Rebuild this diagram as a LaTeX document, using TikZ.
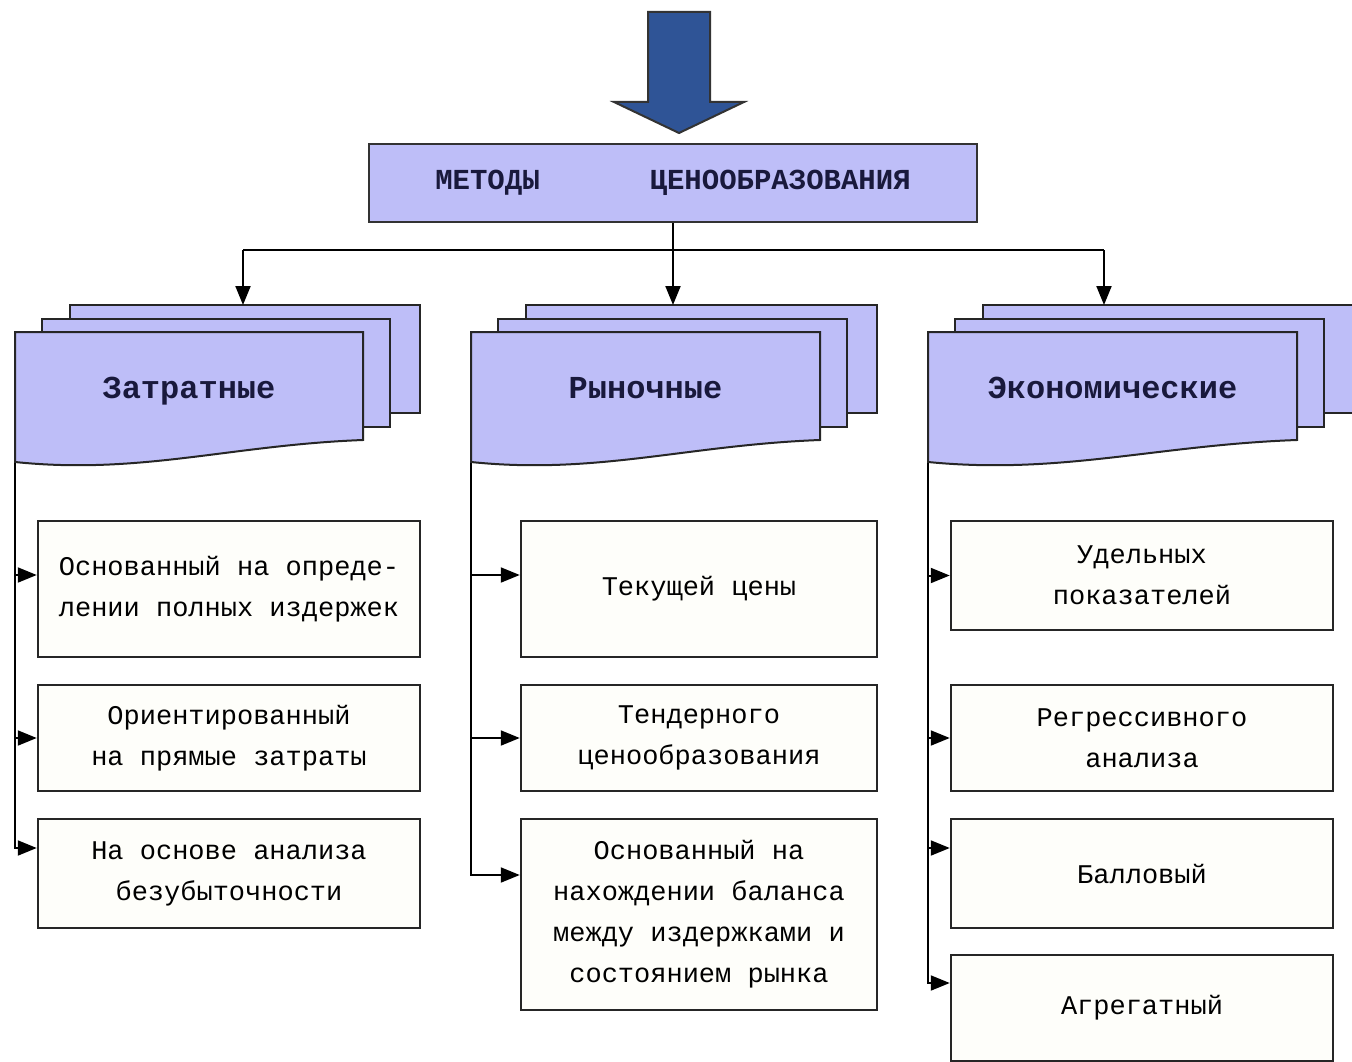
\documentclass[tikz,border=0pt]{standalone}
\usepackage{fontspec}
\setmonofont{Liberation Mono}
\usetikzlibrary{arrows.meta}

\definecolor{lav}{RGB}{190,190,248}
\definecolor{paper}{RGB}{254,254,250}
\definecolor{bigblue}{RGB}{47,84,150}
\definecolor{ink}{RGB}{25,25,60}

% stack of three sheets: left x, front width, back width, name, label
\newcommand\docstack[5]{%
  \draw[sheet] ({#1+55},305) rectangle ++(#3,108);
  \draw[sheet] ({#1+27},319) rectangle ++(#2,108);
  \draw[sheet] (#1,332) -- ++(#2,0) -- ++(0,108)
    .. controls ({#1+0.62*#2},445) and ({#1+0.36*#2},475) .. (#1,462) -- cycle;
  \node[headtxt] (#4) at ({#1+0.5*#2},398) {#5};
  \coordinate (#4T) at ({#1+55},305);
  \coordinate (#4L) at (#1,463);
}

\begin{document}
\begin{tikzpicture}[x=1pt, y=-1pt,
    sheet/.style = {draw=black!85, line width=2pt, fill=lav},
    headtxt/.style = {anchor=base, text=ink,
      font=\ttfamily\bfseries\fontsize{32}{32}\selectfont},
    titlebox/.style = {draw=black!80, line width=2pt, fill=lav,
      minimum width=608pt, minimum height=78pt, text=ink,
      font=\ttfamily\bfseries\fontsize{29}{29}\selectfont},
    box/.style = {draw=black!85, line width=2.5pt, fill=paper, align=center,
      font=\ttfamily\fontsize{27}{41}\selectfont},
    link/.style = {line width=2pt, -{Triangle[length=19pt,width=15pt]}}]
  \useasboundingbox (0,0) rectangle (1352,1062);

  % big arrow on top
  \draw[fill=bigblue, draw=black!80, line width=2pt] (648,12) -- (710,12) -- (710,102)
    -- (744,102) -- (679,133) -- (614,102) -- (648,102) -- cycle;

  \node[titlebox] (title) at (673,183) {МЕТОДЫ\hspace{110pt}ЦЕНООБРАЗОВАНИЯ};

  \docstack{15}{348}{350}{zat}{Затратные}
  \docstack{471}{349}{351}{ryn}{Рыночные}
  \docstack{928}{369}{420}{eko}{Экономические}

  % left column
  \node[box, minimum width=382pt, minimum height=136pt] (z1) at (229,589)
    {Основанный на опреде-\\лении полных издержек};
  \node[box, minimum width=382pt, minimum height=106pt] (z2) at (229,738)
    {Ориентированный\\на прямые затраты};
  \node[box, minimum width=382pt, minimum height=109pt] (z3) at (229,873.5)
    {На основе анализа\\безубыточности};

  % middle column
  \node[box, minimum width=356pt, minimum height=136pt] (r1) at (699,589)
    {\raisebox{-7pt}{Текущей цены}};
  \node[box, minimum width=356pt, minimum height=106pt] (r2) at (699,738)
    {Тендерного\\ценообразования};
  \node[box, minimum width=356pt, minimum height=191pt] (r3) at (699,914.5)
    {Основанный на\\нахождении баланса\\между издержками и\\состоянием рынка};

  % right column
  \node[box, minimum width=382pt, minimum height=109pt] (e1) at (1142,575.5)
    {Удельных\\показателей};
  \node[box, minimum width=382pt, minimum height=106pt] (e2) at (1142,738)
    {Регрессивного\\анализа};
  \node[box, minimum width=382pt, minimum height=109pt] (e3) at (1142,873.5)
    {Балловый};
  \node[box, minimum width=382pt, minimum height=106pt] (e4) at (1142,1008)
    {Агрегатный};

  % connectors
  \coordinate (busL) at (243,250);
  \coordinate (busR) at (1104,250);
  \draw[line width=2pt] (busL) -- (busR);
  \draw[link] (title.south) -- (title.south |- rynT);
  \draw[link] (busL) -- (busL |- zatT);
  \draw[link] (busR) -- (busR |- ekoT);

  \foreach \b/\s in {z1/14, z2/0, z3/25.5}
    \draw[link] (zatL) |- ([yshift=\s]\b.west);
  \foreach \b/\s in {r1/14, r2/0, r3/39.5}
    \draw[link] (rynL) |- ([yshift=\s]\b.west);
  \foreach \b/\s in {e1/0, e2/0, e3/25.5, e4/25}
    \draw[link] (ekoL) |- ([yshift=\s]\b.west);
\end{tikzpicture}
\end{document}
